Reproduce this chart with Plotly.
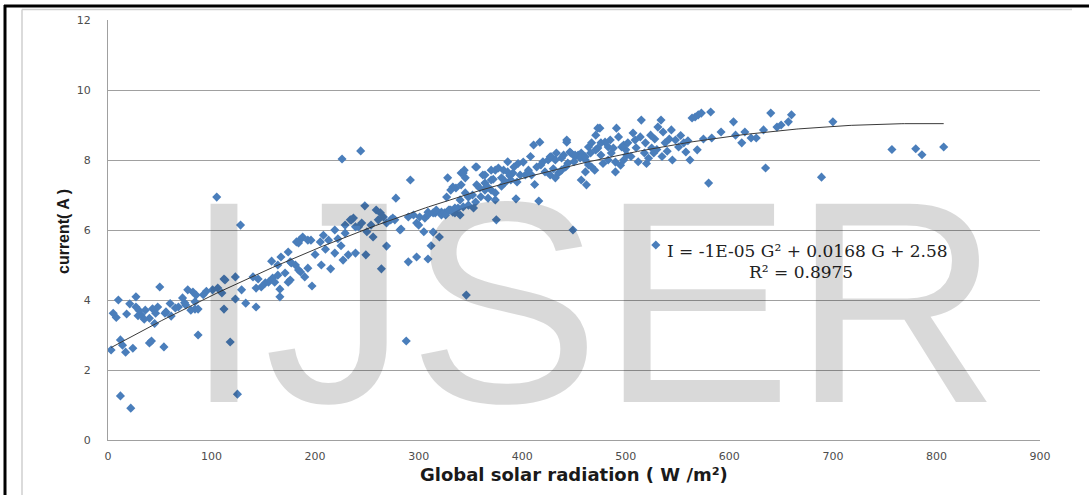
import numpy as np
import plotly.graph_objects as go

# Global solar radiation (W/m2) and current (A)
G_vals = [
    3, 12, 22, 12, 14, 17, 24, 40, 42, 54,
    5, 21, 27, 32, 36, 40, 45, 48, 55, 61, 68, 74, 80, 84,
    27, 50, 29, 43, 46, 56, 65, 72, 77, 82, 85, 75, 84, 10, 18, 35, 60, 30, 8,
    87, 87, 112, 118, 125, 133, 143, 288,
    105, 128, 101, 106, 112, 123, 123, 129, 140, 145, 148, 152, 143, 155, 158, 159, 164, 166, 166,
    164, 167, 171, 174, 176, 176, 181, 184, 185, 188, 193, 190, 193, 184, 113, 161, 174, 196, 182,
    177, 186, 197, 110, 95, 92,
    226, 244, 278, 292, 248, 259, 263, 266, 219, 235, 239, 229, 205, 213, 219, 227, 232, 239, 249,
    264, 269, 283, 290, 298, 206, 215, 277, 229, 234, 237, 242, 245, 254, 261, 269, 273, 282, 290,
    295, 298, 275, 300, 210, 222, 250, 256, 225, 200, 208,
    309, 314, 301, 309, 316, 322, 331, 335, 306, 309, 314, 317, 322, 325, 330, 333, 338, 343, 340,
    348, 355, 326, 329, 335, 327, 331, 336, 341, 345, 348, 340, 333, 345, 341, 344, 355, 356, 359,
    364, 370, 374, 367, 374, 353, 375, 394, 328, 343, 356, 362, 374, 370, 364, 346, 364, 370, 377,
    382, 386, 391, 398, 380, 384, 389, 395, 352, 360, 366, 380, 388, 392, 396, 386, 372, 312, 320, 305,
    401, 403, 406, 409, 411, 417, 416, 449, 414, 418, 425, 428, 432, 422, 427, 432, 435, 438, 442,
    444, 440, 443, 447, 451, 454, 457, 461, 464, 467, 470, 461, 457, 462, 471, 475, 476, 480, 483,
    485, 486, 490, 491, 493, 496, 500, 501, 498, 490, 483, 476, 471, 467, 464, 443, 427, 433, 438,
    446, 451, 456, 461, 466, 473, 473, 488, 498, 420, 430, 450, 478, 495, 408, 412,
    502, 507, 509, 514, 515, 519, 524, 525, 527, 531, 534, 536, 538, 544, 548, 551, 556, 558, 562,
    564, 567, 570, 573, 582, 580, 569, 583, 592, 529, 505, 512, 518, 522, 530, 535, 540, 545, 510,
    520, 553, 542, 528, 575, 560,
    604, 606, 612, 621, 626, 633, 635, 640, 646, 657, 660, 689, 700, 757, 780, 786, 807, 615, 650,
]
I_vals = [
    2.57, 1.26, 0.91, 2.86, 2.71, 2.51, 2.62, 2.77, 2.83, 2.66,
    3.62, 3.89, 3.80, 3.57, 3.71, 3.48, 3.33, 3.80, 3.62, 3.54, 3.80, 3.92, 3.71, 3.95,
    4.09, 4.37, 3.55, 3.75, 3.62, 3.66, 3.77, 4.06, 4.29, 4.23, 4.14, 3.86, 3.74, 4.00, 3.60, 3.45, 3.90, 3.70, 3.50,
    3.74, 3.00, 3.74, 2.80, 1.31, 3.91, 3.80, 2.83,
    6.94, 6.14, 4.29, 4.34, 4.60, 4.66, 4.03, 4.29, 4.66, 4.60, 4.37, 4.49, 4.34, 4.51, 5.11, 4.63, 4.71, 4.31, 4.09,
    5.00, 5.23, 4.77, 5.37, 4.57, 5.09, 5.00, 4.86, 5.71, 5.80, 5.71, 4.66, 4.91, 5.63, 4.57, 4.51, 4.51, 5.71, 5.66,
    5.06, 4.80, 4.40, 4.20, 4.25, 4.15,
    8.03, 8.26, 6.91, 7.43, 6.69, 6.57, 6.49, 6.37, 6.00, 6.29, 6.09, 5.91, 5.66, 5.71, 5.34, 5.14, 5.29, 5.34, 5.29,
    4.89, 5.54, 6.03, 5.09, 5.23, 5.00, 4.89, 6.29, 6.14, 6.29, 6.34, 6.09, 6.20, 6.14, 6.29, 6.20, 6.29, 6.00, 6.37,
    6.43, 6.20, 6.34, 6.14, 5.45, 5.75, 5.95, 5.80, 5.55, 5.30, 5.85,
    5.17, 5.94, 6.37, 6.51, 6.49, 6.51, 6.57, 6.49, 6.34, 6.43, 6.49, 6.57, 6.43, 6.49, 6.57, 6.51, 6.63, 6.66, 6.43,
    6.71, 6.80, 6.43, 6.57, 6.63, 6.94, 7.14, 7.20, 7.29, 7.06, 6.94, 6.86, 7.23, 7.49, 7.63, 7.71, 7.80, 7.29, 7.20,
    7.34, 7.14, 7.06, 6.91, 6.86, 6.63, 6.29, 6.89, 7.49, 7.63, 7.80, 7.57, 7.71, 7.43, 7.14, 4.14, 7.57, 7.71, 7.77,
    7.71, 7.66, 7.63, 7.57, 7.49, 7.37, 7.43, 7.37, 7.00, 6.95, 7.25, 7.25, 7.55, 7.80, 7.90, 7.95, 7.45, 5.55, 5.80, 5.95,
    7.94, 7.57, 7.71, 7.57, 8.43, 8.51, 6.83, 6.00, 7.80, 7.86, 8.00, 8.09, 8.00, 7.66, 7.57, 7.49, 7.63, 7.71, 7.80,
    7.91, 8.14, 8.51, 8.20, 8.09, 8.14, 8.20, 8.00, 7.86, 7.80, 7.71, 7.66, 7.43, 7.29, 8.71, 8.91, 8.49, 8.51, 8.37,
    8.57, 8.20, 7.66, 8.91, 8.66, 8.37, 8.29, 8.14, 8.00, 7.94, 8.00, 8.14, 8.29, 8.49, 8.37, 8.57, 8.09, 8.20, 8.06,
    8.23, 8.14, 8.06, 8.09, 8.20, 8.34, 8.91, 8.34, 8.43, 7.95, 7.75, 7.95, 7.90, 7.85, 8.10, 7.30,
    8.49, 8.77, 8.57, 8.66, 9.14, 8.49, 8.71, 8.34, 8.20, 8.94, 9.14, 8.80, 8.49, 8.86, 8.57, 8.37, 8.49, 8.23, 8.00,
    9.20, 9.23, 9.29, 9.34, 9.37, 7.34, 8.29, 8.63, 8.80, 5.57, 8.10, 7.95, 8.20, 8.05, 8.30, 8.10, 8.25, 8.00, 8.35,
    7.90, 8.70, 8.60, 8.60, 8.60, 8.55,
    9.09, 8.71, 8.49, 8.63, 8.63, 8.86, 7.77, 9.34, 8.94, 9.09, 9.29, 7.51, 9.09, 8.30, 8.32, 8.15, 8.37, 8.80, 9.00,
]

x_ticks = [0, 100, 200, 300, 400, 500, 600, 700, 800, 900]
y_ticks = [0, 2, 4, 6, 8, 10, 12]
equation_line1 = "I = -1E-05 G² + 0.0168 G + 2.58"
equation_line2 = "R² = 0.8975"
x_title = "Global solar radiation ( W /m²)"
y_title = "current( A )"
watermark = "IJSER"

G = np.array(G_vals, dtype=float)
I = np.array(I_vals, dtype=float)
coef = np.polyfit(G, I, 2)
g_line = np.linspace(G.min(), G.max(), 300)
i_line = np.polyval(coef, g_line)

fig = go.Figure()
fig.add_trace(go.Scatter(
    x=G_vals, y=I_vals, mode="markers",
    marker=dict(symbol="diamond", size=7, color="#4A7EBB", line=dict(width=0)),
    showlegend=False, hoverinfo="x+y",
))
fig.add_trace(go.Scatter(
    x=g_line, y=i_line, mode="lines",
    line=dict(color="#3a3a3a", width=1),
    showlegend=False, hoverinfo="skip",
))

L, R, T, B = 108, 49, 20, 55
W, H = 1089, 495
pw, ph = W - L - R, H - T - B

def px(x):
    return (x - L) / pw

def py(y):
    return (H - B - y) / ph

fig.update_layout(
    width=W, height=H,
    margin=dict(l=L, r=R, t=T, b=B, pad=0),
    paper_bgcolor="white", plot_bgcolor="white",
    font=dict(family="DejaVu Sans, Verdana, sans-serif", size=11, color="#4d4d4d"),
    xaxis=dict(
        range=[0, 900], tickvals=x_ticks, ticktext=[str(v) for v in x_ticks],
        showgrid=False, zeroline=False, showline=True, linecolor="#a0a0a0", linewidth=1.2,
        ticks="", ticklabelstandoff=6, tickfont=dict(size=11, color="#4d4d4d"),
        fixedrange=True,
    ),
    yaxis=dict(
        range=[0, 12], tickvals=y_ticks, ticktext=[str(v) for v in y_ticks],
        showgrid=True, gridcolor="#a0a0a0", gridwidth=1.3, zeroline=False,
        showline=True, linecolor="#a0a0a0", linewidth=1.2,
        ticks="", ticklabelstandoff=14, tickfont=dict(size=11, color="#4d4d4d"),
        fixedrange=True,
    ),
    shapes=[
        # outer black frame
        dict(type="line", xref="paper", yref="paper", x0=px(5), x1=px(5), y0=py(5), y1=py(500),
             line=dict(color="black", width=3), layer="above"),
        dict(type="line", xref="paper", yref="paper", x0=px(4), x1=px(1095), y0=py(6), y1=py(6),
             line=dict(color="black", width=3), layer="above"),
        # inner light gray chart frame
        dict(type="line", xref="paper", yref="paper", x0=px(22), x1=px(22), y0=py(9.5), y1=py(500),
             line=dict(color="#cfcfcf", width=1.5), layer="above"),
        dict(type="line", xref="paper", yref="paper", x0=px(22), x1=px(1072), y0=py(9.5), y1=py(9.5),
             line=dict(color="#cfcfcf", width=1.5), layer="above"),
    ],
    annotations=[
        dict(text=x_title, xref="paper", yref="paper", x=0.5, y=py(474), xanchor="center", yanchor="middle",
             showarrow=False, font=dict(family="DejaVu Sans, Verdana, sans-serif", size=18, color="#1a1a1a",
                                        weight="bold")),
        dict(text=y_title, xref="paper", yref="paper", x=px(63), y=py(232), xanchor="center", yanchor="middle",
             textangle=-90, showarrow=False,
             font=dict(family="Liberation Sans Narrow, Arial Narrow, Liberation Sans, sans-serif",
                       size=16, color="#1a1a1a", weight="bold")),
        dict(text=equation_line1, xref="paper", yref="paper", x=px(807), y=py(251), xanchor="center",
             yanchor="middle", showarrow=False,
             font=dict(family="DejaVu Serif, Liberation Serif, serif", size=17, color="#222222")),
        dict(text=equation_line2, xref="paper", yref="paper", x=px(801), y=py(272), xanchor="center",
             yanchor="middle", showarrow=False,
             font=dict(family="DejaVu Serif, Liberation Serif, serif", size=17, color="#222222")),
        dict(text=watermark, xref="paper", yref="paper", x=px(592), y=py(302), xanchor="center",
             yanchor="middle", showarrow=False,
             font=dict(family="Liberation Sans, Arial, sans-serif", size=288, color="rgba(0,0,0,0.15)")),
    ],
)

fig.write_html("out.html")
